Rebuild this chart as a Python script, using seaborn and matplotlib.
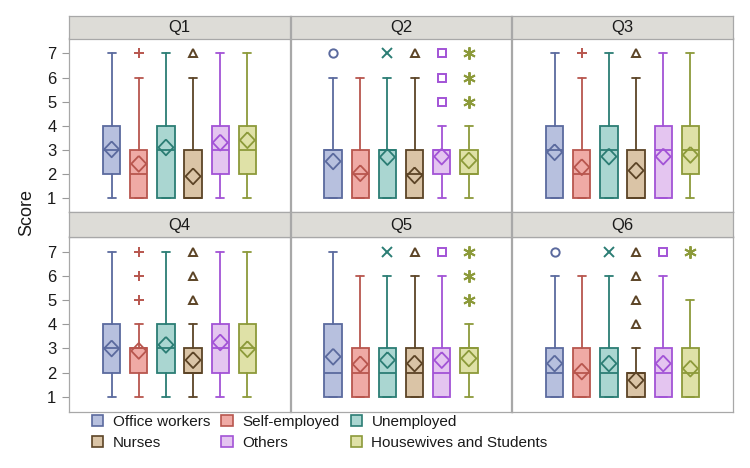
import numpy as np
import pandas as pd
import matplotlib
matplotlib.use("Agg")
import matplotlib.pyplot as plt
from matplotlib.patches import Patch
import seaborn as sns

# ---------------- data ----------------
groups = ["Office workers", "Self-employed", "Unemployed", "Nurses", "Others",
          "Housewives and Students"]
questions = ["Q1", "Q2", "Q3", "Q4", "Q5", "Q6"]

# rows = questions, columns = groups
whisker_low = [
    [1, 1, 1, 1, 1, 1],
    [1, 1, 1, 1, 1, 1],
    [1, 1, 1, 1, 1, 1],
    [1, 1, 1, 1, 1, 1],
    [1, 1, 1, 1, 1, 1],
    [1, 1, 1, 1, 1, 1],
]
box_q1 = [
    [2, 1, 1, 1, 2, 2],
    [1, 1, 1, 1, 2, 2],
    [1, 1, 1, 1, 1, 2],
    [2, 2, 2, 2, 2, 2],
    [1, 1, 1, 1, 1, 2],
    [1, 1, 1, 1, 1, 1],
]
medians = [
    [3, 2, 3, 1, 3, 3],
    [3, 2, 3, 2, 3, 2],
    [3, 2, 3, 1, 3, 3],
    [3, 3, 3, 2, 3, 3],
    [2, 2, 2, 2, 2, 3],
    [2, 2, 2, 2, 2, 2],
]
box_q3 = [
    [4, 3, 4, 3, 4, 4],
    [3, 3, 3, 3, 3, 3],
    [4, 3, 4, 3, 4, 4],
    [4, 3, 4, 3, 4, 4],
    [4, 3, 3, 3, 3, 3],
    [3, 3, 3, 2, 3, 3],
]
whisker_high = [
    [7, 6, 7, 6, 7, 7],
    [6, 6, 6, 6, 4, 4],
    [7, 6, 7, 6, 7, 7],
    [7, 4, 7, 4, 7, 7],
    [7, 6, 6, 6, 6, 4],
    [6, 6, 6, 3, 6, 5],
]
means = [
    [3.02, 2.42, 3.10, 1.90, 3.30, 3.40],
    [2.52, 2.03, 2.70, 1.94, 2.72, 2.56],
    [2.90, 2.28, 2.72, 2.14, 2.72, 2.79],
    [3.00, 2.90, 3.15, 2.52, 3.25, 2.97],
    [2.66, 2.35, 2.52, 2.38, 2.52, 2.59],
    [2.38, 2.05, 2.38, 1.69, 2.38, 2.17],
]
# outliers: question -> {group index: values}
outliers = {
    "Q1": {1: [7], 3: [7]},
    "Q2": {0: [7], 2: [7], 3: [7], 4: [5, 6, 7], 5: [5, 6, 7]},
    "Q3": {1: [7], 3: [7]},
    "Q4": {1: [5, 6, 7], 3: [5, 6, 7]},
    "Q5": {2: [7], 3: [7], 4: [7], 5: [5, 6, 7]},
    "Q6": {0: [7], 2: [7], 3: [4, 5, 6, 7], 4: [7], 5: [7]},
}
score_ticks = [1, 2, 3, 4, 5, 6, 7]

# ---------------- style ----------------
fill_colors = ["#b7c0de", "#efaaa5", "#aad6d1", "#dac4a6", "#e4c5f0", "#dfe1a7"]
edge_colors = ["#5b6a9e", "#b8564e", "#2b7d74", "#5c4426", "#a253d6", "#8c9a3a"]
outlier_markers = ["o", "+", "x", "^", "s", (6, 2, 0)]
outlier_sizes = [6, 7.5, 7.5, 6, 6, 9]
frame_color = "#a8a8a8"
text_color = "#1a1a1a"

sns.set_theme(style="white")
plt.rcParams["font.family"] = ["Liberation Sans", "DejaVu Sans"]
plt.rcParams["text.color"] = text_color
plt.rcParams["axes.labelcolor"] = text_color
plt.rcParams["ytick.color"] = text_color

W, H = 750, 468
fig = plt.figure(figsize=(W / 100, H / 100), dpi=100)


def fx(px):
    return px / W


def fy(py):
    return 1 - py / H


col_lefts = [69, 290.5, 512]
col_w = 221
rows = [(16, 38.5, 212.5), (212.5, 236.5, 411.5)]

diamond = [(0, 1), (0.95, 0), (0, -1), (-0.95, 0), (0, 1)]
positions = np.arange(len(groups))

for qi, q in enumerate(questions):
    r, c = divmod(qi, 3)
    htop, hbot, pbot = rows[r]
    left = col_lefts[c]
    ax = fig.add_axes([fx(left), fy(pbot), col_w / W, (pbot - hbot) / H])
    hax = fig.add_axes([fx(left), fy(hbot), col_w / W, (hbot - htop) / H])

    # header strip
    hax.set_facecolor("#dddcd7")
    hax.set_xticks([])
    hax.set_yticks([])
    for s in hax.spines.values():
        s.set_color(frame_color)
        s.set_linewidth(0.9)
    hax.text(0.5, 0.47, q, ha="center", va="center", fontsize=12,
             transform=hax.transAxes, color=text_color)

    stats = []
    for gi, g in enumerate(groups):
        stats.append(dict(med=medians[qi][gi], q1=box_q1[qi][gi], q3=box_q3[qi][gi],
                          whislo=whisker_low[qi][gi], whishi=whisker_high[qi][gi],
                          fliers=[], label=g))
    bp = ax.bxp(stats, positions=positions, widths=0.64, capwidths=0.3,
                patch_artist=True, showfliers=False, manage_ticks=False)
    for gi in range(len(groups)):
        ec = edge_colors[gi]
        bp["boxes"][gi].set_facecolor(fill_colors[gi])
        bp["boxes"][gi].set_edgecolor(ec)
        bp["boxes"][gi].set_linewidth(1.3)
        bp["medians"][gi].set_color(ec)
        bp["medians"][gi].set_linewidth(1.3)
        for k in (2 * gi, 2 * gi + 1):
            bp["whiskers"][k].set_color(ec)
            bp["whiskers"][k].set_linewidth(1.3)
            bp["caps"][k].set_color(ec)
            bp["caps"][k].set_linewidth(1.3)

    # mean diamonds through seaborn
    mdf = pd.DataFrame({"pos": positions, "mean": means[qi], "group": groups})
    sns.scatterplot(data=mdf, x="pos", y="mean", hue="group",
                    palette=dict(zip(groups, edge_colors)), marker=diamond,
                    s=130, legend=False, ax=ax, zorder=4)
    coll = ax.collections[-1]
    fcs = coll.get_facecolors()
    coll.set_edgecolors(fcs)
    coll.set_facecolors("none")
    coll.set_linewidths(1.3)

    # outliers
    for gi, vals in outliers[q].items():
        m = outlier_markers[gi]
        ax.plot([positions[gi]] * len(vals), vals, linestyle="none", marker=m,
                markersize=outlier_sizes[gi],
                markerfacecolor="none", markeredgecolor=edge_colors[gi],
                markeredgewidth=1.4, zorder=4)

    ax.set_xlim(-1.57, 6.57)
    ax.set_ylim(0.4, 7.62)
    ax.set_xticks([])
    ax.set_xlabel("")
    ax.set_ylabel("")
    ax.set_facecolor("white")
    for s in ax.spines.values():
        s.set_color(frame_color)
        s.set_linewidth(0.9)
    if c == 0:
        ax.set_yticks(score_ticks)
        ax.set_yticklabels([str(t) for t in score_ticks])
        ax.tick_params(axis="y", left=True, length=5, width=0.8, color="#9a9a9a",
                       labelsize=12, pad=4)
    else:
        ax.set_yticks([])

fig.text(fx(27), fy(213), "Score", rotation=90, ha="center", va="center",
         fontsize=13, color=text_color)

handles = [Patch(facecolor=fill_colors[i], edgecolor=edge_colors[i], linewidth=1.2)
           for i in range(len(groups))]
order = [0, 3, 1, 4, 2, 5]
fig.legend([handles[i] for i in order], [groups[i] for i in order], ncol=3,
           loc="upper left", bbox_to_anchor=(fx(92), fy(415)), frameon=False,
           fontsize=11, handlelength=0.75, handleheight=0.75, handletextpad=0.6,
           columnspacing=0.75, labelspacing=0.45, borderpad=0, borderaxespad=0)

fig.savefig("out.png", dpi=100, facecolor="white")
